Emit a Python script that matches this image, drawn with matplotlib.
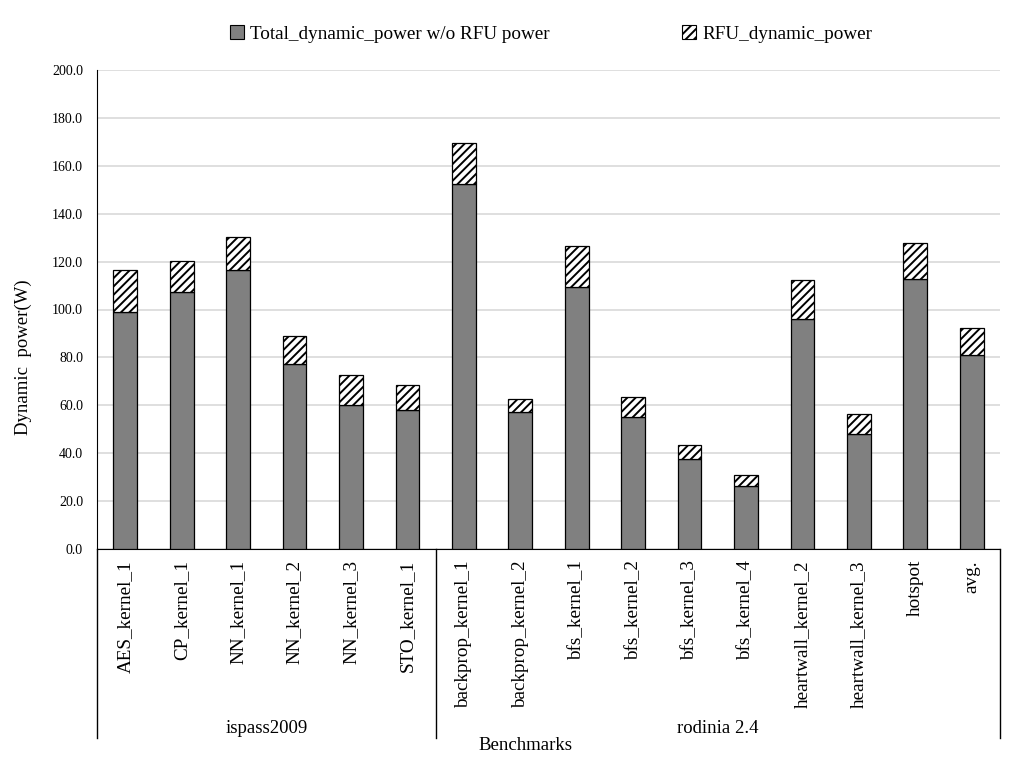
import matplotlib.pyplot as plt
import matplotlib.patches as mpatches
import numpy as np

plt.rcParams['font.family'] = ['Liberation Serif', 'DejaVu Serif']
plt.rcParams['hatch.linewidth'] = 1.4

# benchmarks and groups
benchmarks = ['AES_kernel_1', 'CP_kernel_1', 'NN_kernel_1', 'NN_kernel_2', 'NN_kernel_3', 'STO_kernel_1',
              'backprop_kernel_1', 'backprop_kernel_2', 'bfs_kernel_1', 'bfs_kernel_2', 'bfs_kernel_3',
              'bfs_kernel_4', 'heartwall_kernel_2', 'heartwall_kernel_3', 'hotspot', 'avg.']
groups = ['ispass2009', 'rodinia 2.4']
group_sizes = [6, 10]

# dynamic power (W)
base_power = [99.1, 107.1, 116.3, 77.2, 60.0, 58.0,
              152.3, 57.3, 109.2, 55.0, 37.6, 26.5, 96.0, 47.9, 112.9, 80.8]
rfu_power = [17.3, 13.1, 13.8, 11.7, 12.5, 10.5,
             17.1, 5.4, 17.4, 8.5, 5.7, 4.2, 16.2, 8.3, 14.7, 11.5]

fig = plt.figure(figsize=(10.24, 7.71), dpi=100)
ax = fig.add_axes([97 / 1024, 1 - 549 / 771, 903 / 1024, 479 / 771])

x = np.arange(len(benchmarks))
w = 0.42
ax.bar(x, base_power, w, color='#808080', edgecolor='black', linewidth=0.9, zorder=3)
ax.bar(x, rfu_power, w, bottom=base_power, color='white', edgecolor='black',
       hatch='////', linewidth=0.9, zorder=3)

ax.set_xlim(-0.5, len(benchmarks) - 0.5)
ax.set_ylim(0, 200)
ax.set_yticks(np.arange(0, 201, 20))
ax.yaxis.set_major_formatter(plt.FuncFormatter(lambda v, p: '%.1f' % v))
ax.grid(axis='y', color='#d9d9d9', linewidth=1.2, zorder=0)
ax.set_axisbelow(True)
for s in ['top', 'right']:
    ax.spines[s].set_visible(False)
ax.tick_params(axis='y', length=0, pad=10, labelsize=10)
ax.tick_params(axis='x', length=0, pad=8, labelsize=13.8)
ax.set_xticks(x)
ax.set_xticklabels(benchmarks, rotation=90, va='top')
ax.set_ylabel('Dynamic  power(W)', fontsize=13.5)
ax.yaxis.set_label_coords(-0.072, 0.40)

# group separators and labels
trans = ax.get_xaxis_transform()
edges = [-0.5]
for n in group_sizes:
    edges.append(edges[-1] + n)
for e in edges:
    ax.plot([e, e], [0, -0.395], color='black', linewidth=1.0, transform=trans, clip_on=False)
for i, g in enumerate(groups):
    ax.text((edges[i] + edges[i + 1]) / 2, -0.375, g, transform=trans, ha='center', va='center', fontsize=13.5)
fig.text(525 / 1024, 1 - 746 / 771, 'Benchmarks', ha='center', va='center', fontsize=13.5)

# legend
h1 = mpatches.Patch(facecolor='#808080', edgecolor='black', linewidth=0.8)
h2 = mpatches.Patch(facecolor='white', edgecolor='black', hatch='////', linewidth=0.8)
fig.legend([h1, h2], ['Total_dynamic_power w/o RFU power', 'RFU_dynamic_power'],
           loc='center', bbox_to_anchor=(551 / 1024, 1 - 34 / 771), ncol=2, frameon=False,
           fontsize=13.8, handlelength=0.75, handleheight=0.75, handletextpad=0.3, columnspacing=6.9)

fig.savefig('out.png', dpi=100)
